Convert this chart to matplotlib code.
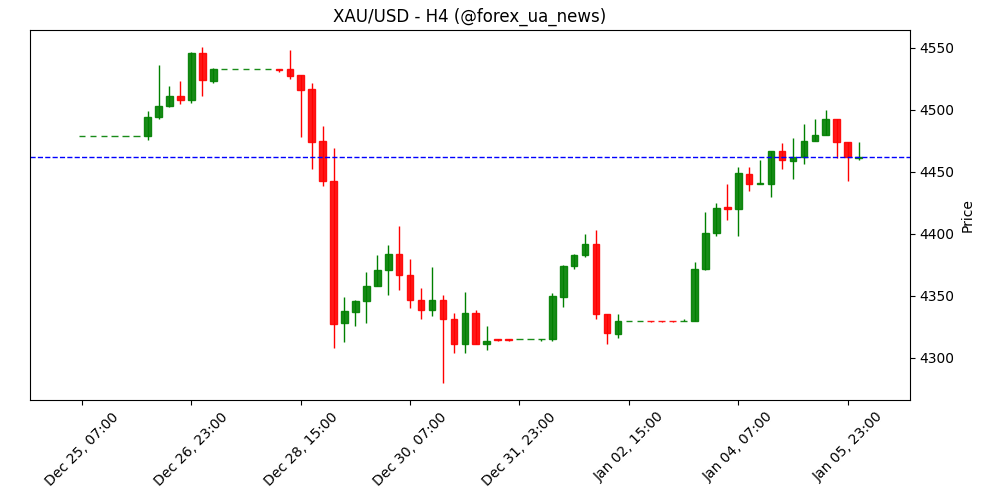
import matplotlib
matplotlib.use("Agg")
import matplotlib.pyplot as plt
import pandas as pd

opens = [4479,4479,4479,4479,4479,4479,4479,4494,4503,4511,4508,4546,4523,
         4533,4533,4533,4533,4533,4533,4533,4528,4517,4475,4443,4328,4337,4346,4358,4371,4384,4367,4347,4339,4347,4331,4311,4336,4311,
         4315,4315,4315,4315,4315,4315,4349,4374,4383,4392,4335,4319,
         4330,4330,4330,4330,4330,4330,4330,4372,4401,4422,4420,4448,4440,4440,4467,4459,4462,4475,4480,4493,4474,4461]
closes = [4479,4479,4479,4479,4479,4479,4494,4503,4511,4508,4546,4524,4533,
          4533,4533,4533,4533,4533,4532,4527,4516,4474,4443,4327,4338,4346,4358,4371,4384,4367,4347,4339,4347,4331,4311,4336,4311,4314,
          4314.5,4314.5,4315,4315,4315,4350,4374,4383,4392,4335,4320,4330,
          4330,4330,4329.5,4329.5,4329.5,4330,4372,4401,4421,4420,4449,4440,4441,4467,4460,4462,4475,4480,4493,4474,4462,4462]
highs = [4479,4479,4479,4479,4479,4479,4499,4536,4519,4523,4547,4551,4534,
         4533,4533,4533,4533,4533,4533,4548,4528,4522,4487,4469,4349,4347,4369,4383,4391,4406,4380,4356,4373,4351,4336,4353,4339,4326,
         4315,4315,4315,4315,4315,4352,4375,4384,4400,4403,4335,4335,
         4330,4330,4330,4330,4330,4331,4377,4418,4425,4440,4454,4454,4460,4467,4473,4477,4489,4493,4500,4493,4474,4474]
lows = [4479,4479,4479,4479,4479,4479,4476,4493,4502,4505,4506,4511,4522,
        4533,4533,4533,4533,4533,4531,4525,4478,4452,4439,4308,4313,4326,4328,4358,4351,4355,4340,4331,4334,4280,4304,4304,4311,4306,
        4314,4314,4315,4315,4314,4314,4341,4372,4381,4331,4311,4316,
        4330,4330,4329,4329,4329,4330,4330,4371,4398,4411,4398,4435,4440,4430,4452,4444,4456,4475,4480,4461,4443,4460]
ref_price = 4462
dates = pd.date_range("2025-12-25 07:00", periods=len(opens), freq="4h")
tick_idx = list(range(0, len(opens), 10))
tick_labels = [dates[i].strftime("%b %d, %H:%M") for i in tick_idx]

fig, ax = plt.subplots(figsize=(10, 5), dpi=100)
x = list(range(len(opens)))
for i in x:
    o, c, h, l = opens[i], closes[i], highs[i], lows[i]
    col = "green" if c >= o else "red"
    ax.vlines(i, l, h, color=col, linewidth=1)
    ax.bar(i, c - o, bottom=o, width=0.6, color=col, edgecolor=col, linewidth=1, alpha=0.9)
ax.axhline(ref_price, color="blue", linestyle="--", linewidth=1)
ax.set_xlim(-4.75, 75.7)
ax.set_ylim(4266, 4564.5)
ax.set_xticks(tick_idx)
ax.set_xticklabels(tick_labels, rotation=45)
ax.yaxis.tick_right()
ax.yaxis.set_label_position("right")
ax.set_ylabel("Price")
ax.set_title("XAU/USD - H4 (@forex_ua_news)")
fig.subplots_adjust(left=0.03, right=0.91, top=0.94, bottom=0.2)
fig.savefig("out.png")
